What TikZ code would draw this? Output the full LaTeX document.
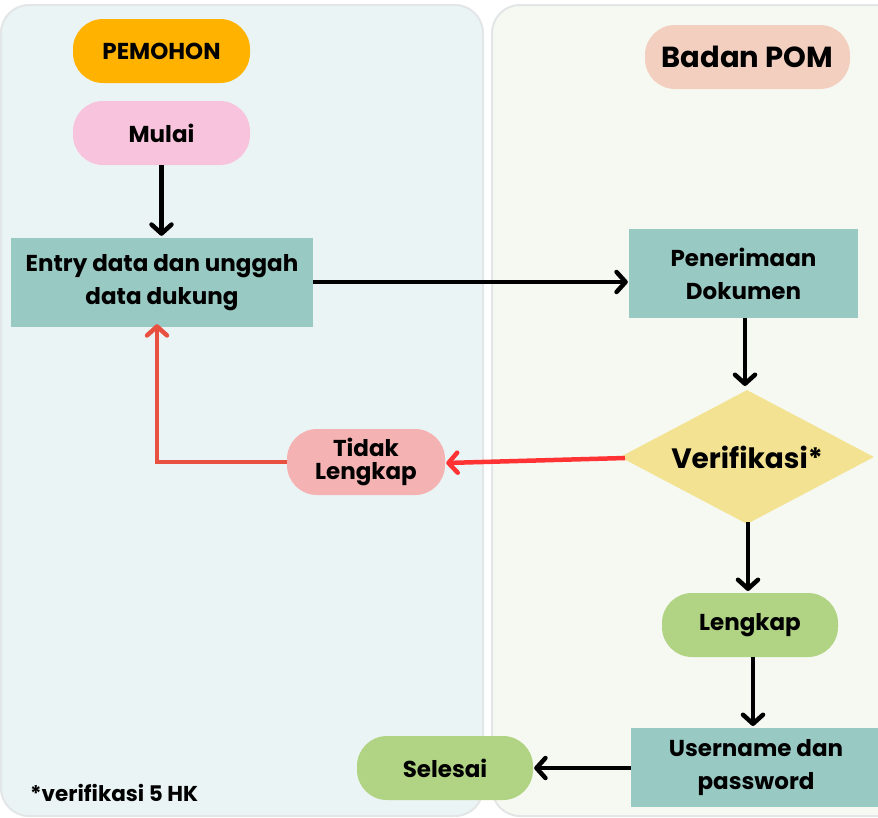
\documentclass[tikz,border=0pt]{standalone}
\usepackage{fontspec}
\setmainfont{Poppins}
\usetikzlibrary{arrows.meta,shapes.geometric}
\definecolor{leftbg}{HTML}{EBF4F5}
\definecolor{rightbg}{HTML}{F6F9F2}
\definecolor{panelline}{HTML}{E3E6E6}
\definecolor{cOrange}{HTML}{FFB300}
\definecolor{cPink}{HTML}{F8C3DC}
\definecolor{cTeal}{HTML}{99C9C3}
\definecolor{cPeach}{HTML}{F3CFC0}
\definecolor{cYellow}{HTML}{F3E292}
\definecolor{cRose}{HTML}{F5B2B2}
\definecolor{cGreen}{HTML}{B1D384}
\definecolor{cRed}{HTML}{FF3333}
\definecolor{cRedB}{HTML}{E8503F}
\tikzset{
  pill/.style={rounded corners=30pt, inner sep=0pt, align=center, font=\bfseries\fontsize{23}{27}\selectfont},
  boxnode/.style={fill=cTeal, inner sep=0pt, align=center, font=\bfseries\fontsize{23}{33}\selectfont},
  flow/.style={line width=4.5pt, -{Straight Barb[length=9pt,width=20pt,line cap=round,line join=round]}},
  redflow/.style={line width=4.5pt, draw=cRed, -{Straight Barb[length=9pt,width=20pt,line cap=round,line join=round]}},
}
\begin{document}
\begin{tikzpicture}[x=1pt,y=-1pt]
\useasboundingbox (0,0) rectangle (878,817);
% panels
\draw[panelline, line width=2pt, fill=leftbg, rounded corners=28pt] (1,5) rectangle (483,816);
\draw[panelline, line width=2pt, fill=rightbg, rounded corners=28pt] (492,5) rectangle (920,816);
% nodes
\node[pill, fill=cOrange, minimum width=177pt, minimum height=64pt] (pemohon) at (161.5,51) {PEMOHON};
\node[pill, fill=cPink, minimum width=177pt, minimum height=64pt] (mulai) at (161.5,133) {Mulai};
\node[boxnode, minimum width=302pt, minimum height=89pt] (entry) at (162,282.5) {Entry data dan unggah\\data dukung};
\node[pill, fill=cPeach, minimum width=205pt, minimum height=64pt, font=\bfseries\fontsize{29}{33}\selectfont] (bpom) at (747.5,57) {Badan POM};
\node[boxnode, minimum width=229pt, minimum height=89pt] (terima) at (743.5,273.5) {Penerimaan\\Dokumen};
\node[diamond, fill=cYellow, minimum width=254pt, minimum height=134pt, inner sep=0pt, aspect=1.9, font=\bfseries\fontsize{28}{32}\selectfont] (verif) at (747,457) {Verifikasi*};
\node[pill, fill=cRose, minimum width=158pt, minimum height=66pt, font=\bfseries\fontsize{23}{23.5}\selectfont] (tidak) at (366,462) {Tidak\\Lengkap};
\node[pill, fill=cGreen, minimum width=176pt, minimum height=64pt] (lengkap) at (750,625) {Lengkap};
\node[boxnode, minimum width=250pt, minimum height=79pt] (user) at (756,767.5) {Username dan\\password};
\node[pill, fill=cGreen, minimum width=176pt, minimum height=64pt] (selesai) at (445,768) {Selesai};
\node[anchor=west, inner sep=0pt, font=\bfseries\fontsize{21.5}{24}\selectfont] (note) at (30,793) {*verifikasi 5 HK};
\coordinate (corner) at (157,462);
% connectors
\draw[flow] (mulai.south) -- ([yshift=2pt]entry.north -| mulai.south);
\draw[flow] (entry.east |- 0,282) -- ([xshift=-1pt]terima.west |- 0,282);
\draw[flow] (terima.south -| 745,0) -- (745,386);
\draw[flow] (748,522) -- (748,591);
\draw[flow] (lengkap.south -| 753,0) -- (753,726);
\draw[flow] (user.west |- 0,768) -- ([xshift=1pt]selesai.east);
\draw[redflow] (625,458) -- ([xshift=1pt]tidak.east |- 0,463);
\draw[line width=4.5pt, draw=cRedB, -{Straight Barb[length=9pt,width=20pt,line cap=round,line join=round]}] (tidak.west) -- (corner) -- ([yshift=3pt]corner |- entry.south);
\end{tikzpicture}
\end{document}
